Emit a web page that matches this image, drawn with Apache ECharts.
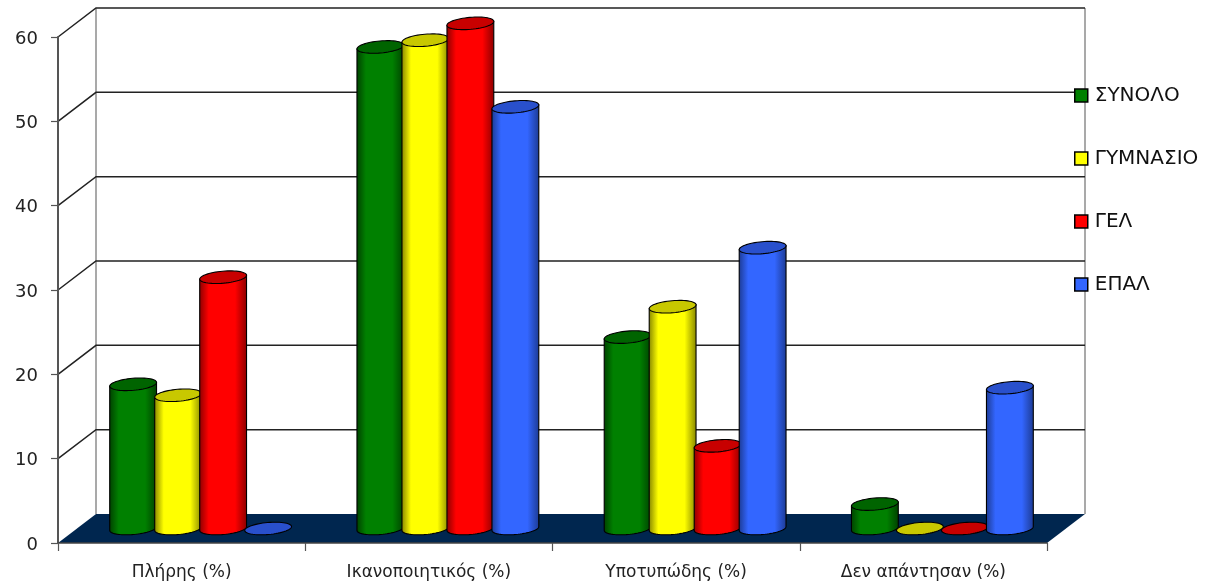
<!DOCTYPE html>
<html>
<head>
<meta charset="utf-8">
<style>html,body{margin:0;padding:0;background:#fff}#c{width:1222px;height:585px}</style>
<script src="https://cdn.jsdelivr.net/npm/echarts@6/dist/echarts.min.js"></script>
</head>
<body>
<div id="c"></div>
<script>
const categories = ['Πλήρης (%)', 'Ικανοποιητικός (%)', 'Υποτυπώδης (%)', 'Δεν απάντησαν (%)'];
const seriesNames = ['ΣΥΝΟΛΟ', 'ΓΥΜΝΑΣΙΟ', 'ΓΕΛ', 'ΕΠΑΛ'];
const synolo   = [17.1, 57.1, 22.7, 2.9];
const gymnasio = [15.8, 57.9, 26.3, 0];
const gel      = [29.8, 59.9, 9.8, 0];
const epal     = [0, 50.0, 33.3, 16.7];
const yTicks = [0, 10, 20, 30, 40, 50, 60];

const palette = [
  {side: '#004000', main: '#008000', top: '#006400'},
  {side: '#858500', main: '#ffff00', top: '#c8c800'},
  {side: '#8a0000', main: '#ff0000', top: '#c80000'},
  {side: '#1c3a92', main: '#3366ff', top: '#2950cc'}
];
const FONT = '"DejaVu Sans"';
const DX = 38, DY = 29;        // wall depth
const BAR_STEP = 45, RX = 23.5, RY = 6, TILT = -5 * Math.PI / 180;

function ell(cx, cy, t) {
  const c = Math.cos(t), s = Math.sin(t);
  return [cx + RX * c * Math.cos(TILT) - RY * s * Math.sin(TILT),
          cy + RX * c * Math.sin(TILT) + RY * s * Math.cos(TILT)];
}
function cylinder(si) {
  return function (params, api) {
    const cat = api.value(0), val = api.value(1);
    const front = api.coord([cat, val]), base = api.coord([cat, 0]);
    const cx = front[0] + DX / 2 + (si - 1.5) * BAR_STEP;
    const topY = front[1] - DY / 2, botY = base[1] - DY / 2;
    const col = palette[si];
    const body = [ell(cx, topY, Math.PI)], rim = [];
    for (let i = 0; i <= 36; i++) body.push(ell(cx, botY, Math.PI - Math.PI * i / 36));
    body.push(ell(cx, topY, 0));
    for (let i = 0; i < 60; i++) rim.push(ell(cx, topY, 2 * Math.PI * i / 60));
    const grad = new echarts.graphic.LinearGradient(0, 0, 1, 0, [
      {offset: 0, color: col.side}, {offset: 0.2, color: col.main},
      {offset: 0.75, color: col.main}, {offset: 1, color: col.side}
    ]);
    const kids = [];
    if (val > 0) kids.push({type: 'polygon', shape: {points: body},
      style: {fill: grad, stroke: '#000', lineWidth: 1.1}});
    kids.push({type: 'polygon', shape: {points: rim},
      style: {fill: col.top, stroke: '#000', lineWidth: 1.1}});
    return {type: 'group', children: kids};
  };
}
function floorItem(params, api) {
  const r = params.coordSys, y = api.coord([0, 0])[1];
  const x0 = r.x, x1 = r.x + r.width;
  return {type: 'polygon', shape: {points: [[x0, y], [x0 + DX, y - DY], [x1 + DX, y - DY], [x1, y]]},
    style: {fill: '#00264f', stroke: null}};
}
function wallLine(params, api) {
  const r = params.coordSys, v = api.value(0), y = api.coord([0, v])[1];
  const x0 = r.x, x1 = r.x + r.width;
  return {type: 'polyline', shape: {points: [[x0, y], [x0 + DX, y - DY], [x1 + DX, y - DY]]},
    style: {fill: null, stroke: '#222', lineWidth: 1.5}};
}
function wallEdges(params, api) {
  const r = params.coordSys, y0 = api.coord([0, yTicks[0]])[1], y1 = api.coord([0, yTicks[yTicks.length - 1]])[1];
  const xa = r.x + DX, xb = r.x + r.width + DX;
  const st = {stroke: '#a9a9a9', lineWidth: 2};
  return {type: 'group', children: [
    {type: 'line', shape: {x1: xa, y1: y1 - DY, x2: xa, y2: y0 - DY}, style: st},
    {type: 'line', shape: {x1: xb, y1: y1 - DY, x2: xb, y2: y0 - DY}, style: st}
  ]};
}

const values = [synolo, gymnasio, gel, epal];
const chart = echarts.init(document.getElementById('c'), null, {renderer: 'canvas'});
chart.setOption({
  animation: false,
  backgroundColor: '#fff',
  grid: {left: 58, top: 37, width: 989, height: 506},
  legend: {
    data: seriesNames, orient: 'vertical', left: 1074, top: 85.5, padding: 0,
    icon: 'rect', itemWidth: 13, itemHeight: 13, itemGap: 43, selectedMode: false,
    textStyle: {fontFamily: FONT, fontSize: 20, color: '#111', padding: [0, 0, 0, 2], lineHeight: 17},
    itemStyle: {borderColor: '#000', borderWidth: 1.5}, z: 10
  },
  xAxis: {
    type: 'category', data: categories, z: 4,
    axisLine: {lineStyle: {color: '#444', width: 1.5}},
    axisTick: {show: true, length: 8, lineStyle: {color: '#555', width: 1.2}},
    axisLabel: {interval: 0, margin: 21, fontFamily: FONT, fontSize: 17, color: '#222'}
  },
  yAxis: {
    type: 'value', min: 0, max: 60, interval: 10, z: 4,
    axisLine: {show: true, lineStyle: {color: '#555', width: 2}},
    axisTick: {show: true, length: 7, lineStyle: {color: '#555', width: 1.2}},
    axisLabel: {margin: 20, verticalAlign: 'top', lineHeight: 4, fontFamily: FONT, fontSize: 18, color: '#222'},
    splitLine: {show: false}
  },
  series: [
    {type: 'custom', name: 'walls', coordinateSystem: 'cartesian2d', silent: true, z: 1, clip: false,
      data: [[0]], renderItem: wallEdges},
    {type: 'custom', name: 'floor', coordinateSystem: 'cartesian2d', silent: true, z: 1, clip: false,
      data: [[0]], renderItem: floorItem},
    {type: 'custom', name: 'lines', coordinateSystem: 'cartesian2d', silent: true, z: 1, clip: false,
      data: yTicks.slice(1).map(v => [v]), renderItem: wallLine}
  ].concat(seriesNames.map((n, si) => ({
    type: 'custom', name: n, coordinateSystem: 'cartesian2d', silent: true, z: 2 + si, clip: false,
    itemStyle: {color: palette[si].main},
    encode: {x: 0, y: 1},
    data: values[si].map((v, i) => [i, v]),
    renderItem: cylinder(si)
  })))
});
</script>
</body>
</html>
